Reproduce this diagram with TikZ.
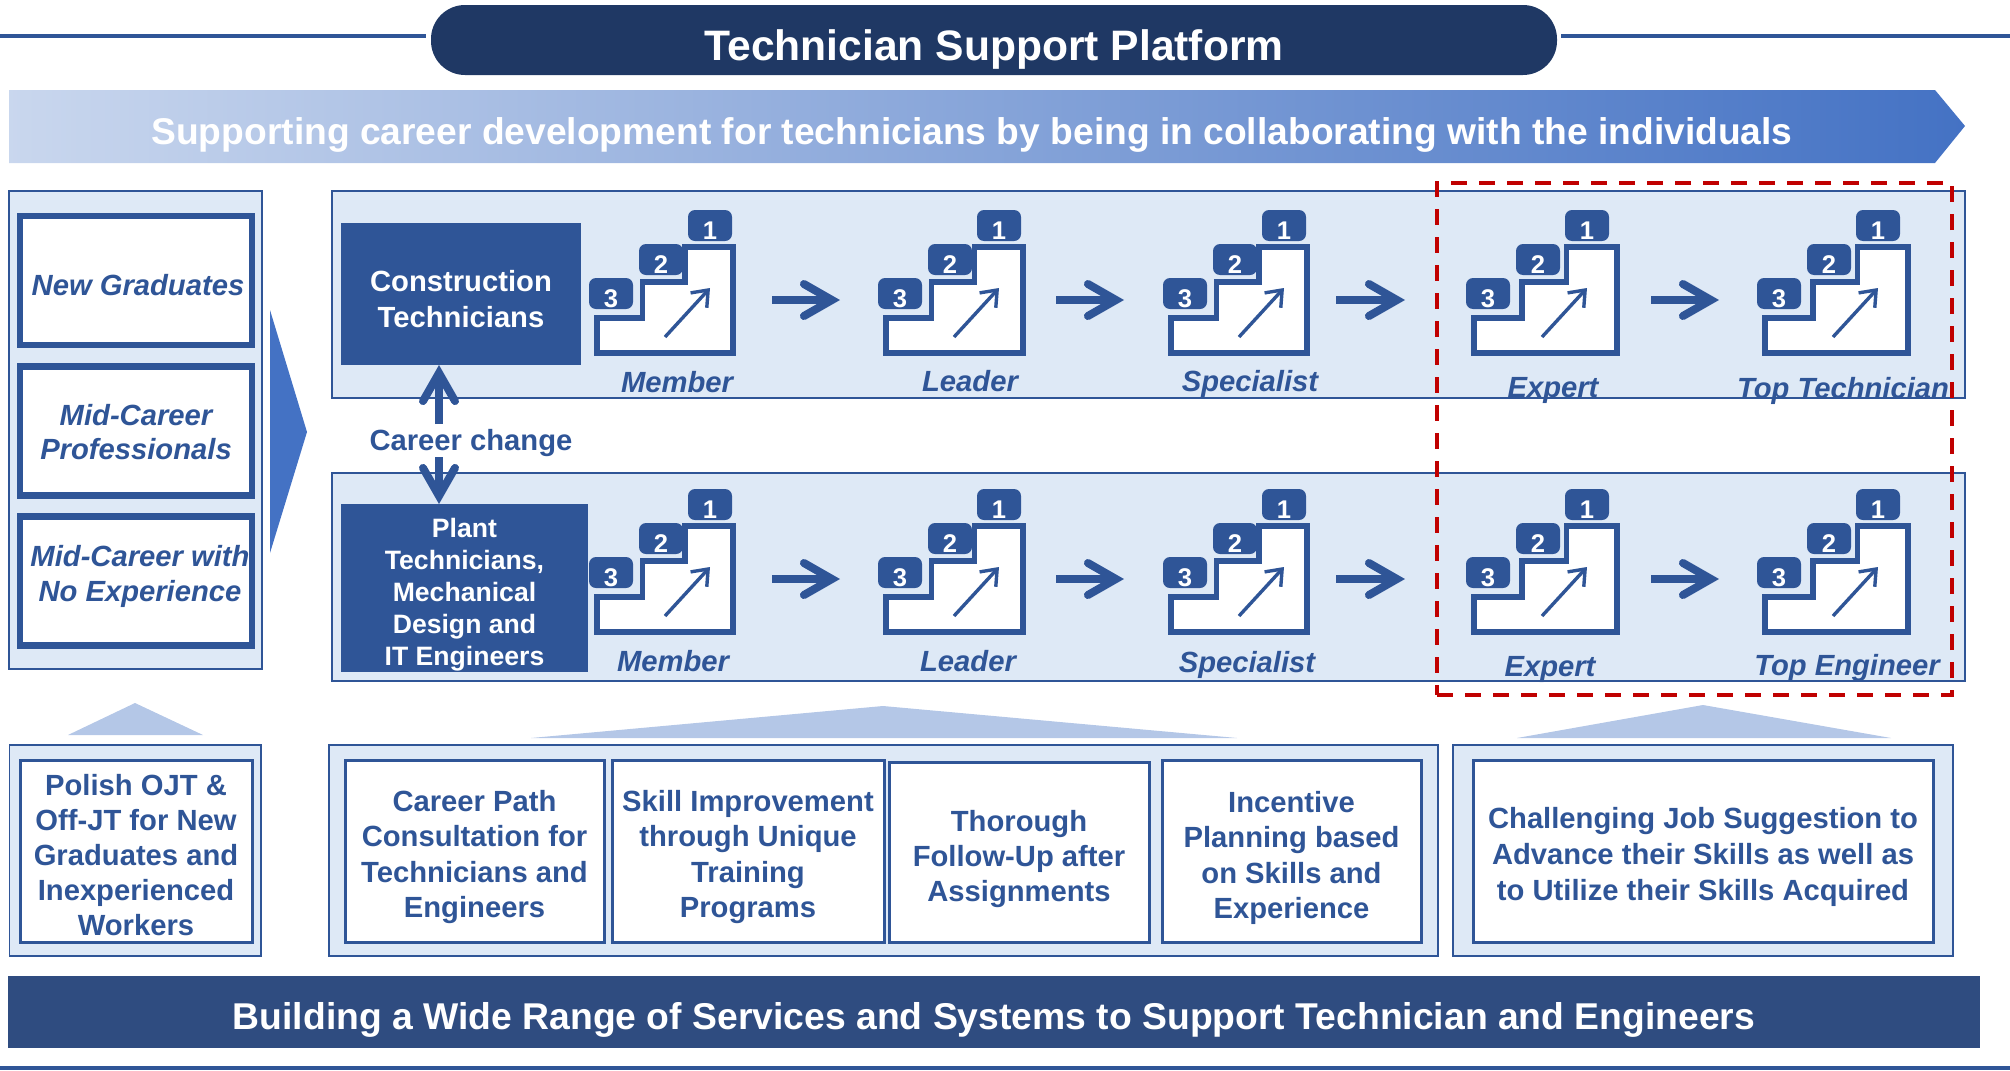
\documentclass[tikz,border=0pt]{standalone}
\usepackage{fontspec}
\setmainfont{Liberation Sans}
\usetikzlibrary{arrows.meta}
\definecolor{mainblue}{HTML}{2F5597}
\definecolor{panelblue}{HTML}{DEE9F6}
\definecolor{lightblue}{HTML}{B4C7E7}
\definecolor{midblue}{HTML}{4472C4}
\definecolor{darkblue}{HTML}{1F3864}
\definecolor{barblue}{HTML}{2F4C80}
\definecolor{focusred}{HTML}{C00000}
\tikzset{
  every node/.style={inner sep=0pt,outer sep=0pt,align=center,font=\fontsize{14.6}{17.6}\selectfont\bfseries},
  panelbox/.style={fill=panelblue,draw=mainblue,line width=0.6pt},
  groupbox/.style={fill=white,draw=mainblue,line width=3.25pt},
  grouptext/.style={text=mainblue,font=\fontsize{14.6}{17.4}\selectfont\bfseries\itshape},
  offerbox/.style={fill=white,draw=mainblue,line width=1.5pt},
  offertext/.style={text=mainblue},
  jobbox/.style={fill=mainblue},
  jobtext/.style={text=white},
  badge/.style={fill=mainblue,text=white,rounded corners=3.5pt,minimum width=22pt,minimum height=15.5pt,text height=14pt,text depth=0pt,font=\fontsize{12.8}{14}\selectfont\bfseries},
  stairline/.style={fill=white,draw=mainblue,line width=2.75pt,line join=miter},
  riseline/.style={draw=mainblue,line width=1.7pt,-{Straight Barb[length=7pt,width=11pt]}},
  flowline/.style={draw=mainblue,line width=4pt,-{Straight Barb[length=14pt,width=16pt,line cap=round,line join=miter]}},
  changeline/.style={draw=mainblue,line width=4pt,-{Straight Barb[length=14pt,width=16pt,line cap=round,line join=miter]}},
  steplabel/.style={text=mainblue,font=\fontsize{14.6}{17.6}\selectfont\bfseries\itshape},
  ruleline/.style={draw=mainblue,line width=2pt},
  focusbox/.style={draw=focusred,line width=1.75pt,dash pattern=on 8pt off 6pt},
}
\newcommand{\stairicon}[4]{
\begin{scope}[shift={(#2,#3)}]
\draw[stairline] (2.75,74) -- ({0.36*#4-2.75},74) -- ({0.36*#4-2.75},38) -- ({0.66*#4-2.75},38) -- ({0.66*#4-2.75},3) -- ({#4-3},3) -- ({#4-3},109) -- (2.75,109) -- cycle;
\node[minimum width=#4*0.5pt,minimum height=56pt] (#1) at ({#4/2},56) {};
\coordinate (#1a) at (71,93);
\coordinate (#1b) at (116,44);
\draw[riseline] (#1a) -- (#1b);
\node[badge] (#1n1) at (116,-18.5) {1};
\node[badge] (#1n2) at (67,15.5) {2};
\node[badge] (#1n3) at (17,49.5) {3};
\end{scope}}
\begin{document}
\begin{tikzpicture}[x=0.5pt,y=-0.5pt]
\useasboundingbox (0,0) rectangle (2010,1071);
\node[fill=darkblue,rounded corners=17pt,minimum width=563pt,minimum height=35pt] (pill) at (994,40) {};
\node[text=white,font=\fontsize{21.3}{24}\selectfont\bfseries] (title) at (994,49) {Technician Support Platform};
\coordinate (ruleleft) at (0,36);
\coordinate (ruleright) at (2010,36);
\draw[ruleline,shorten >=2.5pt] (ruleleft) -- (pill.west |- ruleleft);
\draw[ruleline,shorten >=2pt] (ruleright) -- (pill.east |- ruleright);
\shade[left color=lightblue!72!white,right color=midblue] (9,90) -- (1935,90) -- (1965,126) -- (1935,163) -- (9,163) -- cycle;
\node[text=white,font=\fontsize{18.6}{22}\selectfont\bfseries] (motto) at (972,135) {Supporting career development for technicians by being in collaborating with the individuals};

\draw[panelbox] (9,191) rectangle (262,669);
\node[groupbox,minimum width=116pt,minimum height=64.5pt] (newgrad) at (136,280.5) {};
\node[groupbox,minimum width=116pt,minimum height=64.5pt] (midcareer) at (136,431) {};
\node[groupbox,minimum width=116pt,minimum height=64.5pt] (noexp) at (136,581) {};
\node[grouptext] (newgradtext) at (138,285.5) {New Graduates};
\node[grouptext] (midcareertext) at (136,432) {Mid-Career\\Professionals};
\node[grouptext] (noexptext) at (140,576.5) {Mid-Career with\\No Experience};
\fill[midblue] (270,310) -- (307,432) -- (270,553) -- cycle;

\draw[panelbox] (332,191) rectangle (1965,398);
\draw[panelbox] (332,473) rectangle (1965,681);
\node[jobbox,minimum width=120pt,minimum height=71pt] (construction) at (461,294) {};
\node[jobtext] (constructiontext) at (461,299) {Construction\\Technicians};
\node[jobbox,minimum width=123.5pt,minimum height=84pt] (plant) at (464.5,588) {};
\node[jobtext,font=\fontsize{13.3}{16}\selectfont\bfseries] (planttext) at (464.5,594.5) {Plant\\Technicians,\\Mechanical\\Design and\\IT Engineers};
\node[text=mainblue] (change) at (471,443.5) {Career change};
\coordinate (changeup) at (439,424);
\coordinate (changedown) at (439,457);
\draw[changeline] (changeup) -- (construction.south -| changeup);
\draw[changeline] (changedown) -- (plant.north -| changedown);

\stairicon{ca}{594}{244}{142}
\stairicon{cb}{883}{244}{143}
\stairicon{cc}{1168}{244}{142}
\stairicon{cd}{1471}{244}{149}
\stairicon{ce}{1762}{244}{149}
\stairicon{pa}{594}{523}{142}
\stairicon{pb}{883}{523}{143}
\stairicon{pc}{1168}{523}{142}
\stairicon{pd}{1471}{523}{149}
\stairicon{pe}{1762}{523}{149}
\foreach \row in {c,p}{
  \draw[flowline,shorten <=18pt,shorten >=21.5pt] (\row a.east) -- (\row b.west);
  \draw[flowline,shorten <=15pt,shorten >=22pt] (\row b.east) -- (\row c.west);
  \draw[flowline,shorten <=13pt,shorten >=33pt] (\row c.east) -- (\row d.west);
  \draw[flowline,shorten <=15.5pt,shorten >=21.5pt] (\row d.east) -- (\row e.west);
}
\node[steplabel] (cmember) at (677,382.5) {Member};
\node[steplabel] (cleader) at (970,381.5) {Leader};
\node[steplabel] (cspecial) at (1250,384) {Specialist};
\node[steplabel] (cexpert) at (1553,390.5) {Expert};
\node[steplabel] (ctop) at (1843,390.5) {Top Technician};
\node[steplabel] (pmember) at (673,661.5) {Member};
\node[steplabel] (pleader) at (968,661.5) {Leader};
\node[steplabel] (pspecial) at (1247,664.5) {Specialist};
\node[steplabel] (pexpert) at (1550,669.5) {Expert};
\node[steplabel] (ptop) at (1847,667.5) {Top Engineer};
\node[focusbox,minimum width=257.5pt,minimum height=256pt] (focus) at (1694.5,439) {};

\fill[lightblue] (68,735) -- (135,703) -- (203,735) -- cycle;
\fill[lightblue] (531,738) -- (883,706) -- (1237,738) -- cycle;
\fill[lightblue] (1517,738) -- (1703,705) -- (1891,738) -- cycle;
\draw[panelbox] (9.5,745) rectangle (261,956);
\draw[panelbox] (329,745) rectangle (1438,956);
\draw[panelbox] (1453,745) rectangle (1953,956);
\node[offerbox,minimum width=116pt,minimum height=91pt] (polish) at (136,851) {};
\node[offerbox,minimum width=129.5pt,minimum height=91pt] (consult) at (474.5,851) {};
\node[offerbox,minimum width=136pt,minimum height=91pt] (skill) at (748,851) {};
\node[offerbox,minimum width=130pt,minimum height=90pt] (follow) at (1019,852) {};
\node[offerbox,minimum width=129.5pt,minimum height=91pt] (incentive) at (1291.5,851) {};
\node[offerbox,minimum width=230pt,minimum height=91pt] (challenge) at (1703,851) {};
\node[offertext] (polishtext) at (136,855) {Polish OJT \&\\Off-JT for New\\Graduates and\\Inexperienced\\Workers};
\node[offertext] (consulttext) at (474.5,857) {Career Path\\Consultation for\\Technicians and\\Engineers};
\node[offertext] (skilltext) at (748,857) {Skill Improvement\\through Unique\\Training\\Programs};
\node[offertext] (followtext) at (1019,859) {Thorough\\Follow-Up after\\Assignments};
\node[offertext] (incentivetext) at (1291.5,858) {Incentive\\Planning based\\on Skills and\\Experience};
\node[offertext,font=\fontsize{14.6}{18.2}\selectfont\bfseries] (challengetext) at (1703,857) {Challenging Job Suggestion to\\Advance their Skills as well as\\to Utilize their Skills Acquired};

\node[fill=barblue,minimum width=986pt,minimum height=36pt] (services) at (994,1012) {};
\node[text=white,font=\fontsize{18.65}{22}\selectfont\bfseries] (servicestext) at (994,1020) {Building a Wide Range of Services and Systems to Support Technician and Engineers};
\coordinate (baseleft) at (0,1068);
\coordinate (baseright) at (2010,1068);
\draw[ruleline] (baseleft) -- (baseright);
\end{tikzpicture}
\end{document}
